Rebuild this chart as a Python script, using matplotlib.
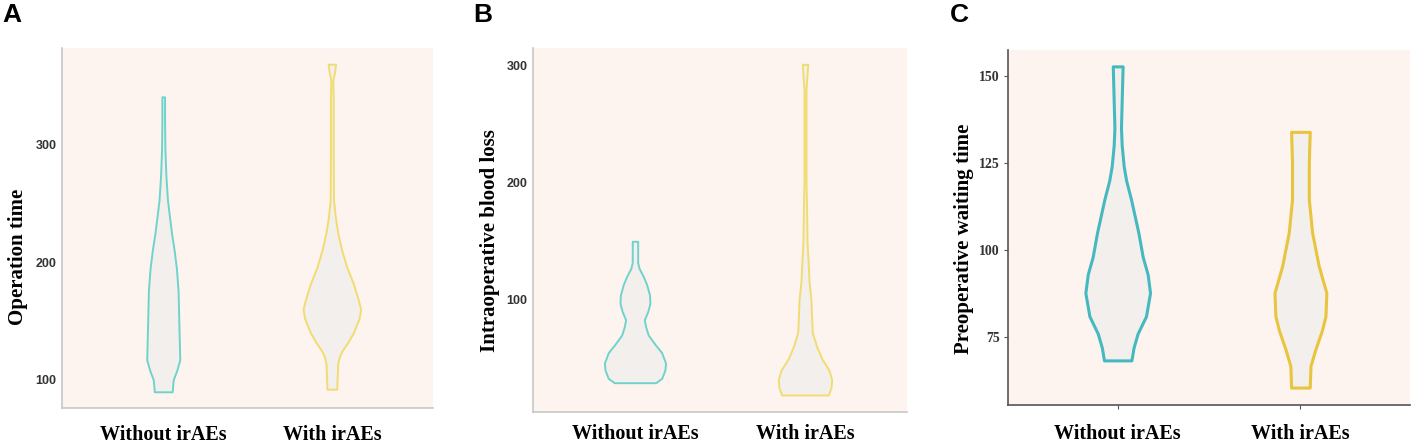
import numpy as np
import matplotlib
matplotlib.use('Agg')
import matplotlib.pyplot as plt

# grupos
grupos = ['Without irAEs', 'With irAEs']

# perfis dos violinos: valor (y) e meia-largura (unidades do eixo x)
a_sem_y = [89.8, 100, 108, 117, 140, 176, 195, 210, 225, 240, 253, 273, 296, 320, 340.9]
a_sem_w = [0.053, 0.059, 0.080, 0.098, 0.094, 0.088, 0.078, 0.065, 0.049, 0.036, 0.025, 0.016,
           0.010, 0.008, 0.008]
a_com_y = [92, 100, 114, 120, 125, 132, 140, 152, 160, 168, 182, 196, 210, 225, 239, 253, 300,
           340, 355, 362, 368.7]
a_com_w = [0.029, 0.031, 0.035, 0.045, 0.062, 0.095, 0.127, 0.161, 0.171, 0.157, 0.127, 0.088,
           0.059, 0.035, 0.020, 0.010, 0.008, 0.008, 0.006, 0.016, 0.022]

b_sem_y = [29.3, 33, 40, 46, 55, 62, 70, 77, 83, 90, 97, 104, 113, 120, 127, 132, 150]
b_sem_w = [0.122, 0.157, 0.176, 0.180, 0.157, 0.118, 0.078, 0.063, 0.055, 0.075, 0.088, 0.086,
           0.069, 0.049, 0.024, 0.016, 0.016]
b_com_y = [18.8, 25, 32, 40, 50, 60, 72, 85, 100, 115, 128, 150, 171, 200, 250, 280, 288, 301]
b_com_w = [0.137, 0.153, 0.157, 0.141, 0.098, 0.069, 0.043, 0.039, 0.035, 0.024, 0.020, 0.012,
           0.010, 0.006, 0.006, 0.006, 0.010, 0.016]

c_sem_y = [68.3, 72, 76, 81, 87.7, 93, 98, 105, 114.5, 120, 124, 130, 135, 143, 152.7]
c_sem_w = [0.075, 0.087, 0.109, 0.155, 0.177, 0.164, 0.137, 0.113, 0.073, 0.046, 0.033, 0.022,
           0.018, 0.022, 0.027]
c_com_y = [60.5, 66.7, 71.5, 77, 81, 87.7, 95.4, 105, 114.5, 125, 133.9]
c_com_w = [0.051, 0.055, 0.082, 0.118, 0.137, 0.142, 0.100, 0.064, 0.046, 0.046, 0.051]

rotulos_y = ['Operation time', 'Intraoperative blood loss', 'Preoperative waiting time']
letras = ['A', 'B', 'C']
ticks_y = [[100, 200, 300], [100, 200, 300], [75, 100, 125, 150]]
limites_y = [(76, 382.5), (4.3, 315), (55.5, 157.4)]

paineis = [
    [(a_sem_y, a_sem_w), (a_com_y, a_com_w)],
    [(b_sem_y, b_sem_w), (b_com_y, b_com_w)],
    [(c_sem_y, c_sem_w), (c_com_y, c_com_w)],
]

posicoes = [
    [0.0438, 0.0893, 0.2618, 0.8036],
    [0.3761, 0.0804, 0.2640, 0.8125],
    [0.7114, 0.0960, 0.2837, 0.7924],
]
cores = [['#6fd3cc', '#f1dc72'], ['#6fd3cc', '#f1dc72'], ['#45b9bf', '#e9c43e']]
larguras = [1.4, 1.4, 2.2]
spine_cor = ['#c8c8c8', '#c8c8c8', '#555555']
label_x = [-0.092, -0.088, -0.084]
label_y = [0.42, 0.47, 0.468]
pad_x = [12, 9, 11]
letras_x = [0.002, 0.334, 0.6705]

fig = plt.figure(figsize=(14.17, 4.48), dpi=100)

for i in range(3):
    ax = fig.add_axes(posicoes[i])
    ax.set_facecolor('#fdf4ef')
    for j, (ys, ws) in enumerate(paineis[i]):
        ys = np.array(ys)
        ws = np.array(ws)
        ax.fill_betweenx(ys, j - ws, j + ws, facecolor='#f3efec',
                         edgecolor=cores[i][j], linewidth=larguras[i])
    ax.set_xlim(-0.6, 1.6)
    ax.set_ylim(*limites_y[i])
    ax.set_xticks([0, 1])
    ax.set_xticklabels(grupos, family='Liberation Serif', fontweight='bold', fontsize=14.5)
    ax.set_yticks(ticks_y[i])
    if i < 2:
        ax.set_yticklabels([str(t) for t in ticks_y[i]], family='Liberation Sans',
                           fontweight='bold', fontsize=9, color='#333333')
        ax.tick_params(axis='y', length=0, pad=4)
        ax.tick_params(axis='x', length=0, pad=pad_x[i])
    else:
        ax.set_yticklabels([str(t) for t in ticks_y[i]], family='Liberation Serif',
                           fontweight='bold', fontsize=10, color='#333333')
        ax.tick_params(axis='y', length=3, width=0.8, color='#555555', pad=3)
        ax.tick_params(axis='x', length=3, width=0.8, color='#555555', pad=pad_x[i])
    for lado in ['top', 'right']:
        ax.spines[lado].set_visible(False)
    for lado in ['left', 'bottom']:
        ax.spines[lado].set_color(spine_cor[i])
        ax.spines[lado].set_linewidth(1.2)
    ax.set_ylabel(rotulos_y[i], family='Liberation Serif', fontweight='bold', fontsize=15)
    ax.yaxis.set_label_coords(label_x[i], label_y[i])
    # letra do painel
    fig.text(letras_x[i], 0.966, letras[i], family='Liberation Sans', fontweight='bold',
             fontsize=19, va='center')

fig.savefig('out.png', dpi=100)
